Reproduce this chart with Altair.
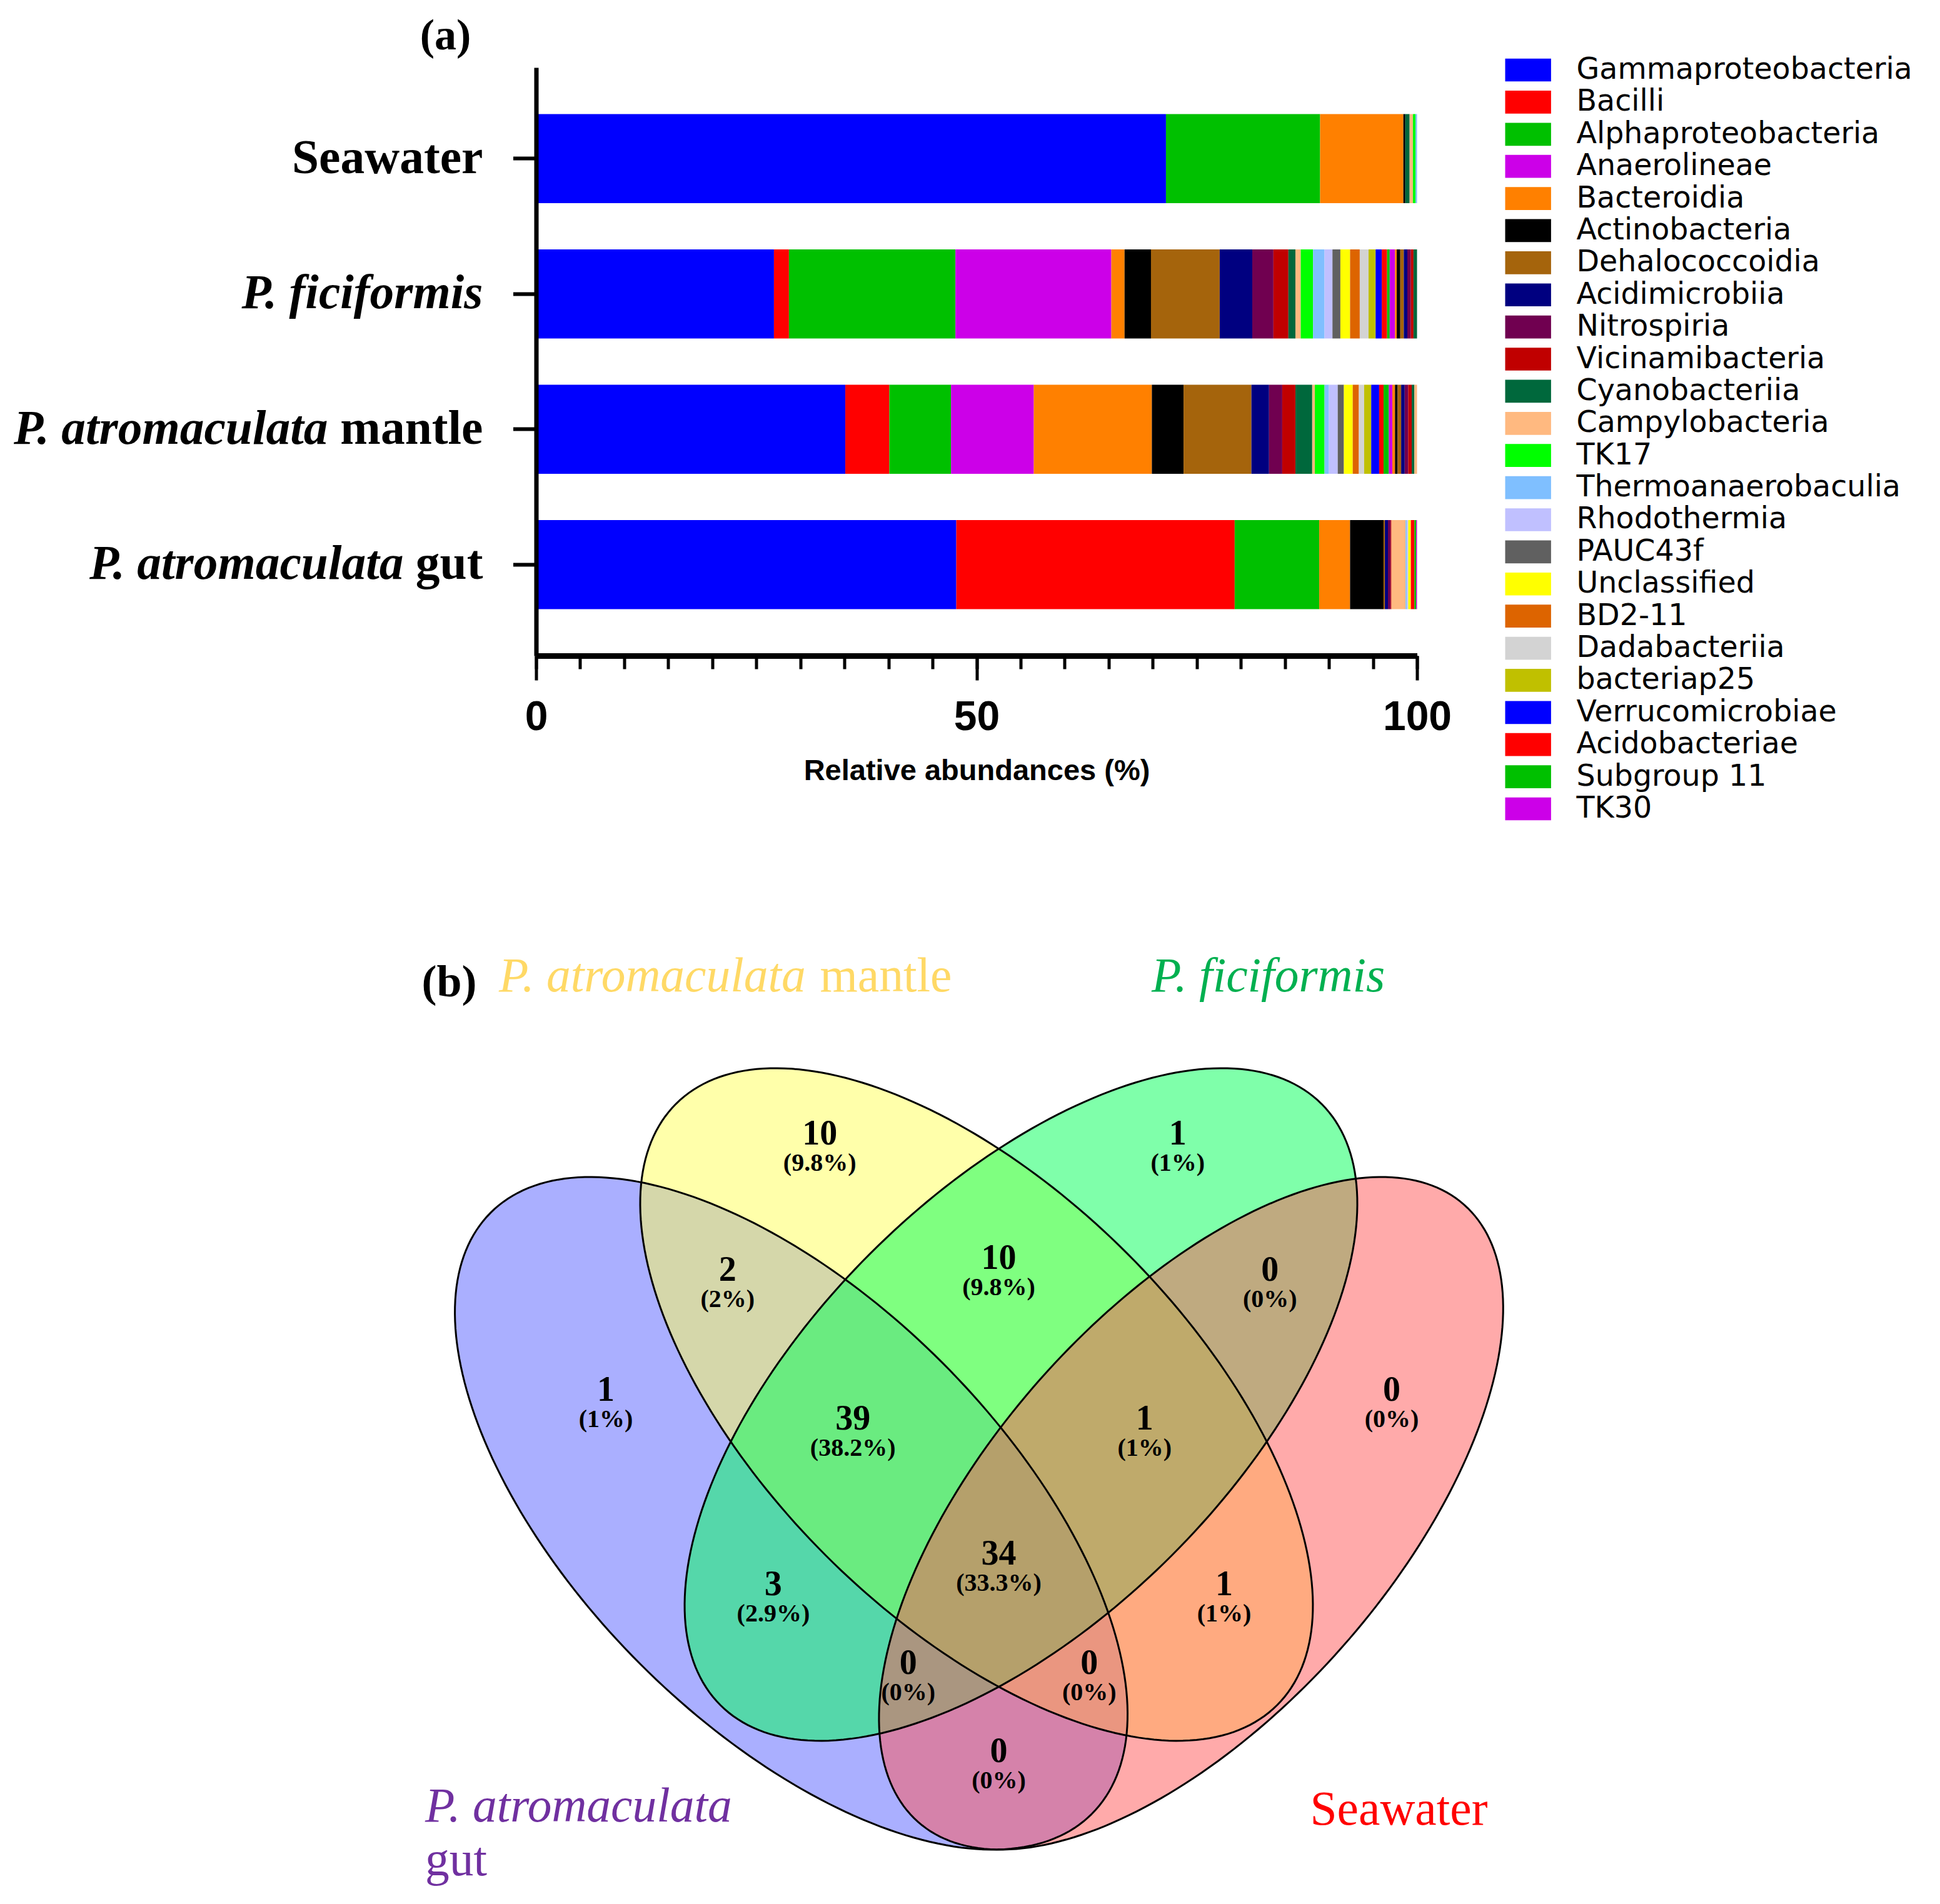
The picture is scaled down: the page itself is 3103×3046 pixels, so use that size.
import numpy as np
import pandas as pd
import altair as alt

SERIF = "Liberation Serif"
SANS = "Liberation Sans"
LEGEND_FONT = "DejaVu Sans"

# ------------------------------------------------------------------ (a) data
samples = ["Seawater", "P. ficiformis", "P. atromaculata mantle", "P. atromaculata gut"]
label_italic = ["", "P. ficiformis", "P. atromaculata", "P. atromaculata"]
label_upright = ["Seawater", "", "mantle", "gut"]
upright_width = [0, 0, 248, 127]

classes = ["Gammaproteobacteria", "Bacilli", "Alphaproteobacteria", "Anaerolineae", "Bacteroidia",
           "Actinobacteria", "Dehalococcoidia", "Acidimicrobiia", "Nitrospiria", "Vicinamibacteria",
           "Cyanobacteriia", "Campylobacteria", "TK17", "Thermoanaerobaculia", "Rhodothermia",
           "PAUC43f", "Unclassified", "BD2-11", "Dadabacteriia", "bacteriap25",
           "Verrucomicrobiae", "Acidobacteriae", "Subgroup 11", "TK30",
           "Other 1", "Other 2", "Other 3", "Other 4", "Other 5", "Other 6", "Other 7", "Other 8"]
class_colors = ["#0000FF", "#FF0000", "#00C000", "#CC00E8", "#FF8000",
                "#000000", "#A5640C", "#000080", "#700050", "#C00000",
                "#00683C", "#FFB980", "#00FF00", "#7FBFFF", "#C0C0FF",
                "#606060", "#FFFF00", "#DD6400", "#D3D3D3", "#C0C000",
                "#0000FF", "#FF0000", "#00C000", "#CC00E8",
                "#FF8000", "#000000", "#A5640C", "#000080", "#700050", "#C00000", "#00683C", "#FFB980"]
legend_classes = classes[:24]
legend_colors = class_colors[:24]

seawater = [71.5, 0, 17.5, 0, 9.45, 0.22, 0, 0, 0, 0, 0.49, 0.37, 0.3, 0.17, 0, 0,
            0, 0, 0, 0, 0, 0, 0, 0, 0, 0, 0, 0, 0, 0, 0, 0]
ficiformis = [27.0, 1.7, 18.9, 17.7, 1.5, 3.0, 7.8, 3.7, 2.4, 1.7, 0.8, 0.6, 1.4, 1.3, 0.9, 0.9,
              1.1, 1.1, 1.0, 0.8, 0.7, 0.6, 0.3, 0.6, 0.2, 0.4, 0.4, 0.4, 0.4, 0.3, 0.4, 0]
mantle = [35.1, 5.0, 7.0, 9.4, 13.4, 3.6, 7.7, 2.0, 1.5, 1.5, 1.9, 0.3, 1.1, 0.5, 1.0, 0.7,
          1.0, 0.7, 0.6, 0.8, 0.9, 0.5, 0.6, 0.4, 0.3, 0.3, 0.4, 0.4, 0.4, 0.4, 0.3, 0.3]
gut = [47.7, 31.6, 9.6, 0, 3.5, 3.8, 0.15, 0.35, 0.3, 0.1, 0, 1.6, 0, 0.15, 0.15, 0,
       0.3, 0, 0, 0, 0, 0.4, 0.2, 0.1, 0, 0, 0, 0, 0, 0, 0, 0]
sample_values = [seawater, ficiformis, mantle, gut]

rows = []
for s, vals in zip(samples, sample_values):
    for i, (c, v) in enumerate(zip(classes, vals)):
        if v > 0:
            rows.append({"sample": s, "cls": c, "value": v, "idx": i})
bars_df = pd.DataFrame(rows)

x_ticks_major = [0, 50, 100]
x_ticks_minor = [0, 5, 10, 15, 20, 25, 30, 35, 40, 45, 50, 55, 60, 65, 70, 75, 80, 85, 90, 95, 100]

# ------------------------------------------------------------------ (b) data
ell_names = ["P. atromaculata gut", "P. atromaculata mantle", "P. ficiformis", "Seawater"]
ell_cx = [0.3253, 0.4813, 0.5187, 0.6619]
ell_cy = [0.4363, 0.5279, 0.5279, 0.4363]
ell_a = [0.3579, 0.3579, 0.3579, 0.3469]
ell_b = [0.1796, 0.1796, 0.1796, 0.1699]
ell_rot = [-45, -45, 45, 48.5]
ell_fill = ["#555FFF", "#FFFF55", "#00FF55", "#FF5555"]

region_counts = [1, 10, 1, 0, 2, 10, 0, 39, 1, 34, 3, 1, 0, 0, 0]
region_x = [0.1692, 0.3493, 0.6507, 0.8308, 0.2717, 0.5, 0.7283, 0.3772, 0.6228, 0.5,
            0.3102, 0.6898, 0.4238, 0.5762, 0.5]
region_y = [0.5400, 0.7558, 0.7558, 0.5400, 0.6411, 0.6511, 0.6411, 0.5158, 0.5158, 0.4021,
            0.3765, 0.3765, 0.3100, 0.3100, 0.2359]

title_it_text = ["P. atromaculata", "P. ficiformis", "P. atromaculata"]
title_it_x = [0.0792, 0.6287, 0.0171]
title_it_y = [0.8879, 0.8879, 0.1890]
title_it_col = ["#FFD966", "#00B050", "#7030A0"]
title_up_text = ["mantle", "gut", "Seawater"]
title_up_x = [0.3495, 0.0171, 0.7621]
title_up_y = [0.8879, 0.1437, 0.1863]
title_up_col = ["#FFD966", "#7030A0", "#FF0000"]

# ------------------------------------------------------------------ (a) chart
W_A, H_A = 1409, 941
xscale = alt.Scale(domain=[0, 100], nice=False, zero=True)
yenc = alt.Y("sample:N", sort=samples,
             scale=alt.Scale(domain=samples, paddingInner=0.342, paddingOuter=0.344),
             axis=alt.Axis(labels=False, title=None, tickSize=37, tickWidth=6, tickColor="black",
                           domainColor="black", domainWidth=7, grid=False, zindex=1))

bars = alt.Chart(bars_df).mark_bar().encode(
    x=alt.X("value:Q", stack="zero", scale=xscale,
            axis=alt.Axis(values=x_ticks_major, format="d", tickSize=39, tickWidth=5,
                          tickColor="black", domainColor="black", domainWidth=9, grid=False,
                          labelFlush=False, labelFont=SANS, labelFontSize=66, labelFontWeight="bold",
                          labelColor="black", labelPadding=27,
                          title="Relative abundances (%)", titleFont=SANS, titleFontSize=47,
                          titleFontWeight="bold", titleColor="black", titlePadding=30, zindex=1)),
    y=yenc,
    color=alt.Color("cls:N", scale=alt.Scale(domain=classes, range=class_colors), legend=None),
    order=alt.Order("idx:Q", sort="ascending"),
)

minor = alt.Chart(pd.DataFrame({"v": [0]})).mark_point(opacity=0).encode(
    x=alt.X("v:Q", scale=xscale,
            axis=alt.Axis(orient="bottom", values=x_ticks_minor, tickSize=21, tickWidth=5,
                          tickColor="black", labels=False, domain=False, title=None, grid=False,
                          zindex=1)),
)

label_layers = []
for i, s in enumerate(samples):
    d = pd.DataFrame({"sample": [s], "it": [label_italic[i]], "up": [label_upright[i]]})
    if label_upright[i]:
        label_layers.append(
            alt.Chart(d).mark_text(align="right", baseline="middle", font=SERIF, fontSize=77.5,
                                   fontWeight="bold", color="black")
            .encode(x=alt.value(-85), y=yenc, text="up:N"))
    if label_italic[i]:
        label_layers.append(
            alt.Chart(d).mark_text(align="right", baseline="middle", font=SERIF, fontSize=77.5,
                                   fontWeight="bold", fontStyle="italic", color="black",
                                   dx=-upright_width[i])
            .encode(x=alt.value(-85), y=yenc, text="it:N"))

tag_a = alt.Chart(pd.DataFrame({"t": ["(a)"]})).mark_text(
    font=SERIF, fontSize=70, fontWeight="bold", align="center", baseline="middle", color="black"
).encode(x=alt.value(-145), y=alt.value(-50), text="t:N")

# manual legend (rows 51.4 px apart)
leg_df = pd.DataFrame({"cls": legend_classes, "col": legend_colors})
leg_y = alt.Y("cls:N", sort=legend_classes, axis=None,
              scale=alt.Scale(type="point", domain=legend_classes, range=[4, 1186], padding=0))
leg_sw = alt.Chart(leg_df).mark_point(shape="M-1,-0.5H1V0.5H-1Z", size=5388, filled=True,
                                      opacity=1, strokeWidth=0).encode(
    x=alt.value(1586.7), y=leg_y, fill=alt.Fill("col:N", scale=None))
leg_tx = alt.Chart(leg_df).mark_text(align="left", baseline="middle", font=LEGEND_FONT,
                                     fontSize=47.5, color="black").encode(
    x=alt.value(1664), y=leg_y, text="cls:N")

inner_a = alt.layer(bars, minor, *label_layers, tag_a).resolve_axis(x="independent")
panel_a = alt.layer(inner_a, leg_sw, leg_tx).resolve_scale(y="independent").properties(
    width=W_A, height=H_A)

# ------------------------------------------------------------------ (b) chart
W_B, H_B = 1409, 1262
vx = alt.Scale(domain=[0.11053, 0.11053 + W_B / 1900], nice=False, zero=False)
vy = alt.Scale(domain=[0.1526, 0.8168], nice=False, zero=False)

t = np.linspace(0, 2 * np.pi, 241)
ell_rows = []
for k in range(4):
    phi = np.deg2rad(ell_rot[k])
    xs = ell_cx[k] + ell_a[k] * np.cos(t) * np.cos(phi) - ell_b[k] * np.sin(t) * np.sin(phi)
    ys = ell_cy[k] + ell_a[k] * np.cos(t) * np.sin(phi) + ell_b[k] * np.sin(t) * np.cos(phi)
    for j in range(len(t)):
        ell_rows.append({"set": ell_names[k], "k": k, "i": j, "x": xs[j], "y": ys[j]})
ell_df = pd.DataFrame(ell_rows)

fills = []
for k in range(4):
    fills.append(
        alt.Chart(ell_df).transform_filter(alt.datum.k == k)
        .mark_line(fill=ell_fill[k], fillOpacity=0.5, strokeWidth=0)
        .encode(x=alt.X("x:Q", scale=vx, axis=None), y=alt.Y("y:Q", scale=vy, axis=None),
                order=alt.Order("i:Q")))

outlines = alt.Chart(ell_df).mark_line(color="black", strokeWidth=3).encode(
    x=alt.X("x:Q", scale=vx, axis=None), y=alt.Y("y:Q", scale=vy, axis=None),
    detail="set:N", order=alt.Order("i:Q"))

total = sum(region_counts)
reg_df = pd.DataFrame({
    "x": region_x, "y": region_y,
    "count": [str(c) for c in region_counts],
    "pct": ["(" + f"{round(c / total * 100, 1):g}" + "%)" for c in region_counts],
})
count_text = alt.Chart(reg_df).mark_text(font=SERIF, fontSize=56, fontWeight="bold",
                                         baseline="middle", align="center", color="black").encode(
    x=alt.X("x:Q", scale=vx, axis=None), y=alt.Y("y:Q", scale=vy, axis=None), text="count:N")
pct_text = alt.Chart(reg_df).mark_text(font=SERIF, fontSize=40, fontWeight="bold", dy=47,
                                       baseline="middle", align="center", color="black").encode(
    x=alt.X("x:Q", scale=vx, axis=None), y=alt.Y("y:Q", scale=vy, axis=None), text="pct:N")

it_df = pd.DataFrame({"t": title_it_text, "x": title_it_x, "y": title_it_y, "c": title_it_col})
up_df = pd.DataFrame({"t": title_up_text, "x": title_up_x, "y": title_up_y, "c": title_up_col})
titles_it = alt.Chart(it_df).mark_text(font=SERIF, fontSize=77.5, fontStyle="italic", align="left",
                                       baseline="middle").encode(
    x=alt.X("x:Q", scale=vx, axis=None), y=alt.Y("y:Q", scale=vy, axis=None), text="t:N",
    color=alt.Color("c:N", scale=None))
titles_up = alt.Chart(up_df).mark_text(font=SERIF, fontSize=77.5, align="left",
                                       baseline="middle").encode(
    x=alt.X("x:Q", scale=vx, axis=None), y=alt.Y("y:Q", scale=vy, axis=None), text="t:N",
    color=alt.Color("c:N", scale=None))
tag_b = alt.Chart(pd.DataFrame({"t": ["(b)"], "x": [0.0374], "y": [0.8832]})).mark_text(
    font=SERIF, fontSize=72, fontWeight="bold", align="center", baseline="middle", color="black"
).encode(x=alt.X("x:Q", scale=vx, axis=None), y=alt.Y("y:Q", scale=vy, axis=None), text="t:N")

panel_b = alt.layer(*fills, outlines, count_text, pct_text, titles_it, titles_up, tag_b).properties(
    width=W_B, height=H_B)

chart = alt.vconcat(panel_a, panel_b, spacing=649, bounds="flush").resolve_scale(
    color="independent", x="independent", y="independent"
).properties(
    padding={"left": 13.5, "top": 15, "right": 10, "bottom": 10}
).configure_view(strokeWidth=0)

chart.save("out.html", embed_options={"renderer": "svg", "actions": False})
